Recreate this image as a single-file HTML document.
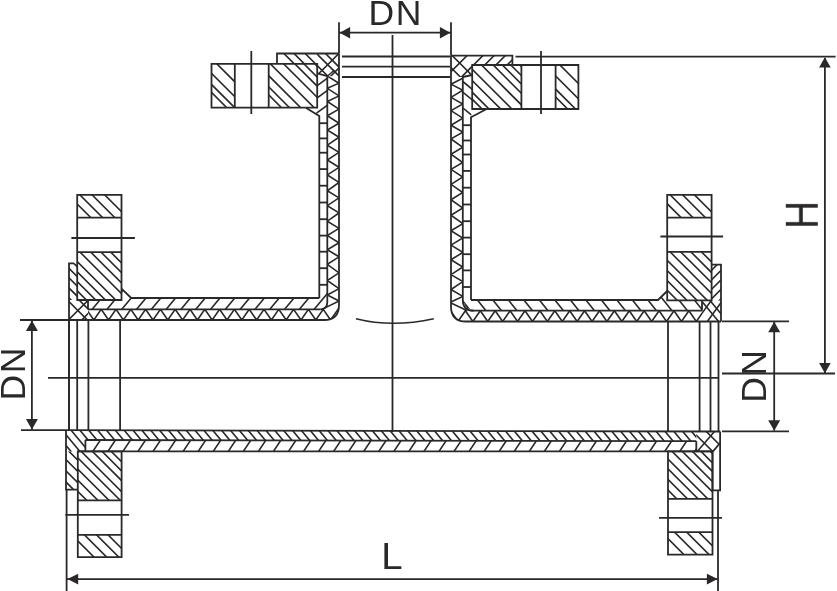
<!DOCTYPE html>
<html><head><meta charset="utf-8"><style>
html,body{margin:0;padding:0;background:#ffffff;}
body{width:837px;height:591px;overflow:hidden;}
svg{display:block;}
.t{will-change:transform;}
</style></head><body>
<svg width="837" height="591" viewBox="0 0 837 591">
<defs><clipPath id="c1"><polygon points="211.5,63.8 234.8,63.8 234.8,107.7 211.5,107.7"/></clipPath><clipPath id="c2"><polygon points="268.7,63.8 317.2,63.8 317.2,107.7 268.7,107.7"/></clipPath><clipPath id="c3"><polygon points="277,53.5 317.2,53.5 317.2,63.8 277,63.8"/></clipPath><clipPath id="c4"><polygon points="317.2,53.5 339,53.5 339,76 327.3,76.2 317.2,73.4"/></clipPath><clipPath id="c5"><polygon points="317.2,53.5 339,53.5 339,76 327.3,76.2 317.2,73.4"/></clipPath><clipPath id="c6"><polygon points="317.2,73.4 327.3,76.2 327.3,118 319.3,118 316,114 317.2,107.7"/></clipPath><clipPath id="c7"><path d="M327.3 76.2 L327.3 302.3 Q327.3 309.3 320.3 309.3 L88 309.3 L88 320 L324 320 Q339 320 339 305 L339 76 Z"/></clipPath><clipPath id="c8"><polygon points="472.2,65 521.4,65 521.4,109 472.2,109"/></clipPath><clipPath id="c9"><polygon points="555.6,65 578.4,65 578.4,109 555.6,109"/></clipPath><clipPath id="c10"><polygon points="472.2,55.6 512.4,55.6 512.4,65 472.2,65"/></clipPath><clipPath id="c11"><polygon points="451,55.6 472.2,55.6 472.2,75 462.8,77 451,77"/></clipPath><clipPath id="c12"><polygon points="451,55.6 472.2,55.6 472.2,75 462.8,77 451,77"/></clipPath><clipPath id="c13"><polygon points="462.8,77 472.2,75 472.2,109 471,117 462.8,117"/></clipPath><clipPath id="c14"><path d="M462.8 77 L462.8 299.7 Q462.8 310.7 473.8 310.7 L702 310.7 L702 321.5 L466 321.5 Q451 321.5 451 306.5 L451 77 Z"/></clipPath><clipPath id="c15"><polygon points="77.2,194.8 121.5,194.8 121.5,217.7 77.2,217.7"/></clipPath><clipPath id="c16"><polygon points="77.2,252.1 121.5,252.1 121.5,300 77.2,300"/></clipPath><clipPath id="c17"><polygon points="69,263.3 77.2,263.3 77.2,300 69,300"/></clipPath><clipPath id="c18"><polygon points="88,300 121.5,300 121.5,288.7 131.2,298 319.3,298 319.3,287 327.3,287 327.3,302.3 325.3,307.3 320.3,309.3 88,309.3"/></clipPath><clipPath id="c19"><polygon points="69,300 88,300 88,309.3 88,320 69,320"/></clipPath><clipPath id="c20"><polygon points="69,300 88,300 88,320 69,320"/></clipPath><clipPath id="c21"><path d="M327.3 76.2 L327.3 302.3 Q327.3 309.3 320.3 309.3 L88 309.3 L88 320 L324 320 Q339 320 339 305 L339 76 Z"/></clipPath><clipPath id="c22"><polygon points="667.2,194.9 711.6,194.9 711.6,217.7 667.2,217.7"/></clipPath><clipPath id="c23"><polygon points="667.2,251.8 711.6,251.8 711.6,300.4 667.2,300.4"/></clipPath><clipPath id="c24"><polygon points="711.6,264.7 721,264.7 721,300.4 711.6,300.4"/></clipPath><clipPath id="c25"><polygon points="471,294 471,300 658,300 667.2,291 667.2,300.4 702,300.4 702,310.7 473.8,310.7 466,307.5 462.8,299.7 462.8,294"/></clipPath><clipPath id="c26"><polygon points="702,300.4 721,300.4 721,321.5 702,321.5"/></clipPath><clipPath id="c27"><polygon points="702,300.4 721,300.4 721,321.5 702,321.5"/></clipPath><clipPath id="c28"><path d="M462.8 77 L462.8 299.7 Q462.8 310.7 473.8 310.7 L702 310.7 L702 321.5 L466 321.5 Q451 321.5 451 306.5 L451 77 Z"/></clipPath><clipPath id="c29"><polygon points="66,430.2 696.3,431.5 696.3,441.2 85.4,440 85.4,451.4 66,451.4"/></clipPath><clipPath id="c30"><polygon points="66,451.4 77.8,451.4 77.8,489.6 66,489.6"/></clipPath><clipPath id="c31"><polygon points="85.4,440 696.3,441.2 696.3,451.4 85.4,451.4"/></clipPath><clipPath id="c32"><polygon points="77.8,451.4 121.6,451.4 121.6,500.3 77.8,500.3"/></clipPath><clipPath id="c33"><polygon points="77.8,534.8 121.6,534.8 121.6,557.2 77.8,557.2"/></clipPath><clipPath id="c34"><polygon points="668,451.4 712.5,451.4 712.5,498.8 668,498.8"/></clipPath><clipPath id="c35"><polygon points="668,532.2 712.5,532.2 712.5,554.6 668,554.6"/></clipPath><clipPath id="c36"><polygon points="696.3,431.5 720.1,431.5 720.1,443 713,451.4 696.3,451.4"/></clipPath><clipPath id="c37"><polygon points="696.3,431.5 720.1,431.5 720.1,443 713,451.4 696.3,451.4"/></clipPath></defs>
<g fill="none" stroke="#2b282a" stroke-linecap="butt" stroke-linejoin="miter">
<line x1="339" y1="22.2" x2="339" y2="53.5" stroke-width="1.8"/>
<line x1="451" y1="22.2" x2="451" y2="55.6" stroke-width="1.8"/>
<line x1="339" y1="32.7" x2="451" y2="32.7" stroke-width="1.8"/>
<polygon points="339.6,32.7 350.1,26.9 350.1,38.5" fill="#2b282a" stroke="none"/>
<polygon points="450.4,32.7 439.9,38.5 439.9,26.9" fill="#2b282a" stroke="none"/>
<line x1="20" y1="320" x2="69" y2="320" stroke-width="1.8"/>
<line x1="21" y1="430.2" x2="66" y2="430.2" stroke-width="1.8"/>
<line x1="31.9" y1="321" x2="31.9" y2="429.5" stroke-width="1.8"/>
<polygon points="31.9,320.6 37.9,331.1 25.9,331.1" fill="#2b282a" stroke="none"/>
<polygon points="31.9,429.4 25.9,418.9 37.9,418.9" fill="#2b282a" stroke="none"/>
<line x1="722" y1="321.3" x2="789" y2="321.3" stroke-width="1.8"/>
<line x1="722" y1="431.4" x2="789" y2="431.4" stroke-width="1.8"/>
<line x1="774.2" y1="322" x2="774.2" y2="430.5" stroke-width="1.8"/>
<polygon points="774.2,321.8 780.2,332.3 768.2,332.3" fill="#2b282a" stroke="none"/>
<polygon points="774.2,430.8 768.2,420.3 780.2,420.3" fill="#2b282a" stroke="none"/>
<line x1="515.5" y1="56.6" x2="835.6" y2="56.6" stroke-width="1.8"/>
<line x1="722" y1="373.5" x2="835" y2="373.5" stroke-width="1.8"/>
<line x1="824.9" y1="58" x2="824.9" y2="373" stroke-width="1.8"/>
<polygon points="824.9,57.2 830.7,67.6 819.1,67.6" fill="#2b282a" stroke="none"/>
<polygon points="824.9,373.3 819.1,362.9 830.7,362.9" fill="#2b282a" stroke="none"/>
<line x1="66.6" y1="490" x2="66.6" y2="591" stroke-width="1.8"/>
<line x1="718" y1="490.5" x2="718" y2="591" stroke-width="1.8"/>
<line x1="67" y1="579.1" x2="718" y2="579.1" stroke-width="1.8"/>
<polygon points="67.5,579.1 78.2,573.7 78.2,584.5" fill="#2b282a" stroke="none"/>
<polygon points="717.6,579.1 706.9,584.5 706.9,573.7" fill="#2b282a" stroke="none"/>
<line x1="392.5" y1="35" x2="392.5" y2="432" stroke-width="1.8"/>
<line x1="48" y1="377.8" x2="719" y2="377.8" stroke-width="1.8"/>
<line x1="251.3" y1="51" x2="251.3" y2="114" stroke-width="1.8"/>
<line x1="541" y1="51" x2="541" y2="114" stroke-width="1.8"/>
<line x1="71.4" y1="238" x2="134.9" y2="238" stroke-width="1.8"/>
<line x1="660.4" y1="236.5" x2="723.1" y2="236.5" stroke-width="1.8"/>
<line x1="65.4" y1="514.9" x2="129" y2="514.9" stroke-width="1.8"/>
<line x1="659" y1="517.8" x2="722" y2="517.8" stroke-width="1.8"/>
<path d="M356 318.7 Q392.5 327.8 433.8 318.7" stroke-width="1.5"/>
<line x1="342" y1="56.5" x2="450" y2="56.5" stroke-width="1.8"/>
<line x1="342" y1="66.7" x2="450" y2="66.7" stroke-width="1.8"/>
<line x1="342" y1="77" x2="450" y2="77" stroke-width="1.8"/>
<path clip-path="url(#c1)" d="M208.5 55.5L237.8 84.8M208.5 70.4L237.8 99.7M208.5 81.5L237.8 110.8M208.5 89.4L237.8 118.7" stroke-width="1.6"/>
<path clip-path="url(#c2)" d="M265.7 14.7L320.2 69.2M265.7 25.6L320.2 80.1M265.7 34.7L320.2 89.2M265.7 45.9L320.2 100.4M265.7 59.2L320.2 113.7M265.7 72.7L320.2 127.2M265.7 83.9L320.2 138.4M265.7 91.9L320.2 146.4" stroke-width="1.6"/>
<polyline points="277,63.8 211.5,63.8 211.5,107.7 305.8,107.7" stroke-width="1.8"/>
<polyline points="277,63.8 317.2,63.8 317.2,107.7 305.8,107.7" stroke-width="1.8"/>
<line x1="234.8" y1="63.8" x2="234.8" y2="107.7" stroke-width="1.8"/>
<line x1="268.7" y1="63.8" x2="268.7" y2="107.7" stroke-width="1.8"/>
<path clip-path="url(#c3)" d="M274 43.6L320.2 89.8M274 33.5L320.2 79.7M274 22.3L320.2 68.5M274 10.6L320.2 56.8" stroke-width="1.6"/>
<path clip-path="url(#c4)" d="M314.2 62.5L342 90.3M314.2 51.2L342 79M314.2 42.2L342 70" stroke-width="1.6"/>
<path clip-path="url(#c5)" d="M314.2 78.2L342 50.4M314.2 92.7L342 64.9" stroke-width="1.6"/>
<polyline points="277,63.8 277,53.5 339,53.5" stroke-width="1.8"/>
<line x1="317.2" y1="73.4" x2="327.3" y2="76.2" stroke-width="1.8"/>
<path clip-path="url(#c6)" d="M313 88.64L330.3 76.18M313 100.84L330.3 88.38M313 115.64L330.3 103.18" stroke-width="1.6"/>
<line x1="327.3" y1="76.2" x2="334.5" y2="70" stroke-width="1.5"/>
<polyline points="305.8,107.7 316,114 319.3,116 319.3,298" stroke-width="1.8"/>
<path d="M327.3 76.2 L327.3 302.3 Q327.3 309.3 320.3 309.3" stroke-width="1.8"/>
<line x1="319.3" y1="123.2" x2="327.3" y2="123.2" stroke-width="1.8"/>
<line x1="319.3" y1="138.4" x2="327.3" y2="138.4" stroke-width="1.8"/>
<line x1="319.3" y1="152.7" x2="327.3" y2="152.7" stroke-width="1.8"/>
<line x1="319.3" y1="169.1" x2="327.3" y2="169.1" stroke-width="1.8"/>
<line x1="319.3" y1="185.7" x2="327.3" y2="185.7" stroke-width="1.8"/>
<line x1="319.3" y1="202.5" x2="327.3" y2="202.5" stroke-width="1.8"/>
<line x1="319.3" y1="219.2" x2="327.3" y2="219.2" stroke-width="1.8"/>
<line x1="319.3" y1="235.6" x2="327.3" y2="235.6" stroke-width="1.8"/>
<line x1="319.3" y1="251.7" x2="327.3" y2="251.7" stroke-width="1.8"/>
<line x1="319.3" y1="268.2" x2="327.3" y2="268.2" stroke-width="1.8"/>
<line x1="319.3" y1="284.8" x2="327.3" y2="284.8" stroke-width="1.8"/>
<polyline clip-path="url(#c7)" points="339,68.5 327.3,76.1 339,83.2 327.3,88.3 339,95.9 327.3,101.5 339,109.1 327.3,115.7 339,123.3 327.3,130 339,137.2 327.3,145.2 339,152.4 327.3,160 339,167.3 327.3,174.9 339,182.4 327.3,190.8 339,197.9 327.3,205.7 339,212.9 327.3,221.2 339,228.4 327.3,235.6 339,242.7 327.3,249.8 339,256.8 327.3,264.4 339,272.9 327.3,280.5 339,288.7 327.3,295 339,301" stroke-width="1.6"/>
<line x1="322" y1="309.3" x2="339" y2="301" stroke-width="1.5"/>
<path d="M339 53.5 L339 305 Q339 320 324 320" stroke-width="1.8"/>
<path clip-path="url(#c8)" d="M469.2 14.2L524.4 69.4M469.2 23.4L524.4 78.6M469.2 31.9L524.4 87.1M469.2 41L524.4 96.2M469.2 52.7L524.4 107.9M469.2 66.3L524.4 121.5M469.2 77.5L524.4 132.7M469.2 89.2L524.4 144.4M469.2 96.2L524.4 151.4" stroke-width="1.6"/>
<path clip-path="url(#c9)" d="M552.6 57.7L581.4 86.5M552.6 73L581.4 101.8M552.6 86.1L581.4 114.9M552.6 94L581.4 122.8" stroke-width="1.6"/>
<polyline points="512.4,65 578.4,65 578.4,109 486.6,109" stroke-width="1.8"/>
<polyline points="512.4,65 472.2,65 472.2,109 486.6,109" stroke-width="1.8"/>
<line x1="521.4" y1="65" x2="521.4" y2="109" stroke-width="1.8"/>
<line x1="555.6" y1="65" x2="555.6" y2="109" stroke-width="1.8"/>
<path clip-path="url(#c10)" d="M469.2 69.3L515.4 23.1M469.2 80.5L515.4 34.3M469.2 91.7L515.4 45.5M469.2 102.9L515.4 56.7" stroke-width="1.6"/>
<path clip-path="url(#c11)" d="M448 51.4L475.2 78.6M448 64.7L475.2 91.9" stroke-width="1.6"/>
<path clip-path="url(#c12)" d="M448 74.7L475.2 47.5M448 90.5L475.2 63.3" stroke-width="1.6"/>
<polyline points="451,55.6 512.4,55.6 512.4,65" stroke-width="1.8"/>
<line x1="472.2" y1="75" x2="462.8" y2="77" stroke-width="1.8"/>
<path clip-path="url(#c13)" d="M459.8 79.04L475.2 91.66M459.8 89.64L475.2 102.26M459.8 105.44L475.2 118.06" stroke-width="1.6"/>
<polyline points="486.6,109 471,117.2 471,300" stroke-width="1.8"/>
<path d="M462.8 77 L462.8 299.7 Q462.8 310.7 473.8 310.7" stroke-width="1.8"/>
<line x1="462.8" y1="125.2" x2="471" y2="125.2" stroke-width="1.8"/>
<line x1="462.8" y1="140.5" x2="471" y2="140.5" stroke-width="1.8"/>
<line x1="462.8" y1="154.5" x2="471" y2="154.5" stroke-width="1.8"/>
<line x1="462.8" y1="170.9" x2="471" y2="170.9" stroke-width="1.8"/>
<line x1="462.8" y1="187.7" x2="471" y2="187.7" stroke-width="1.8"/>
<line x1="462.8" y1="204.5" x2="471" y2="204.5" stroke-width="1.8"/>
<line x1="462.8" y1="221.2" x2="471" y2="221.2" stroke-width="1.8"/>
<line x1="462.8" y1="237.6" x2="471" y2="237.6" stroke-width="1.8"/>
<line x1="462.8" y1="254.2" x2="471" y2="254.2" stroke-width="1.8"/>
<line x1="462.8" y1="270.4" x2="471" y2="270.4" stroke-width="1.8"/>
<line x1="462.8" y1="287" x2="471" y2="287" stroke-width="1.8"/>
<polyline clip-path="url(#c14)" points="462.8,78.1 451,84.2 462.8,90.3 451,97.4 462.8,104 451,110.6 462.8,118.2 451,125.3 462.8,132.1 451,138.9 462.8,147.3 451,154.2 462.8,162.5 451,169.4 462.8,177 451,184.4 462.8,192.5 451,199.7 462.8,208 451,215.2 462.8,223.6 451,230.8 462.8,238 451,245.1 462.8,252.4 451,259.8 462.8,267 451,274.6 462.8,281.6 451,289.5 462.8,296.4 451,302" stroke-width="1.6"/>
<line x1="467.4" y1="310.7" x2="451" y2="303" stroke-width="1.5"/>
<path d="M451 55.6 L451 306.5 Q451 321.5 466 321.5" stroke-width="1.8"/>
<path clip-path="url(#c15)" d="M74.2 164.4L124.5 214.7M74.2 177L124.5 227.3M74.2 189.2L124.5 239.5M74.2 201L124.5 251.3" stroke-width="1.6"/>
<path clip-path="url(#c16)" d="M74.2 205.7L124.5 256M74.2 215.6L124.5 265.9M74.2 225.3L124.5 275.6M74.2 235.6L124.5 285.9M74.2 246.3L124.5 296.6M74.2 258.5L124.5 308.8M74.2 268.8L124.5 319.1M74.2 278.5L124.5 328.8M74.2 287.8L124.5 338.1" stroke-width="1.6"/>
<polygon points="77.2,194.8 121.5,194.8 121.5,300 77.2,300" stroke-width="1.8"/>
<line x1="77.2" y1="217.7" x2="121.5" y2="217.7" stroke-width="1.8"/>
<line x1="77.2" y1="252.1" x2="121.5" y2="252.1" stroke-width="1.8"/>
<path clip-path="url(#c17)" d="M66 255.5L80.2 269.7M66 265.3L80.2 279.5M66 274.9L80.2 289.1M66 285L80.2 299.2M66 295L80.2 309.2" stroke-width="1.6"/>
<polyline points="74.3,263.3 69,263.3 69,430.2" stroke-width="1.8"/>
<path clip-path="url(#c18)" d="M86 281.2L329.3 -10.76M86 298.96L329.3 7M86 316.72L329.3 24.76M86 334.48L329.3 42.52M86 352.24L329.3 60.28M86 370L329.3 78.04M86 387.76L329.3 95.8M86 405.52L329.3 113.56M86 423.28L329.3 131.32M86 441.04L329.3 149.08M86 458.8L329.3 166.84M86 476.56L329.3 184.6M86 494.32L329.3 202.36M86 512.08L329.3 220.12M86 529.84L329.3 237.88M86 547.6L329.3 255.64M86 565.36L329.3 273.4M86 583.12L329.3 291.16M86 600.88L329.3 308.92M86 618.64L329.3 326.68" stroke-width="1.6"/>
<polyline points="121.5,288.7 131.2,298 319.3,298" stroke-width="1.8"/>
<line x1="88" y1="300" x2="88" y2="309.3" stroke-width="1.8"/>
<line x1="88" y1="309.3" x2="320.3" y2="309.3" stroke-width="1.8"/>
<path clip-path="url(#c19)" d="M66 286.9L91 311.9M66 298.7L91 323.7" stroke-width="1.6"/>
<path clip-path="url(#c20)" d="M66 322.4L91 297.4M66 335.7L91 310.7" stroke-width="1.6"/>
<polyline clip-path="url(#c21)" points="71.6,309.3 79,320 86.4,309.3 93.8,320 101.2,309.3 108.6,320 116,309.3 123.4,320 130.8,309.3 138.2,320 145.6,309.3 153,320 160.4,309.3 167.8,320 175.2,309.3 182.6,320 190,309.3 197.4,320 204.8,309.3 212.2,320 219.6,309.3 227,320 234.4,309.3 241.8,320 249.2,309.3 256.6,320 264,309.3 271.4,320 278.8,309.3 286.2,320 293.6,309.3 301,320 308.4,309.3 315.8,320 323.2,309.3 330.6,320 338,309.3 345.4,320 352.8,309.3 360.2,320" stroke-width="1.6"/>
<line x1="69" y1="320" x2="325.5" y2="320" stroke-width="1.8"/>
<line x1="77.2" y1="320" x2="77.2" y2="430.2" stroke-width="1.8"/>
<line x1="88.4" y1="320" x2="88.4" y2="430.2" stroke-width="1.8"/>
<line x1="120.1" y1="320" x2="120.1" y2="430.2" stroke-width="1.8"/>
<path clip-path="url(#c22)" d="M664.2 164.6L714.6 215M664.2 176.4L714.6 226.8M664.2 188.9L714.6 239.3M664.2 200.7L714.6 251.1" stroke-width="1.6"/>
<path clip-path="url(#c23)" d="M664.2 214.6L714.6 265M664.2 225.2L714.6 275.6M664.2 235.4L714.6 285.8M664.2 246L714.6 296.4M664.2 257.3L714.6 307.7M664.2 267.5L714.6 317.9M664.2 277.6L714.6 328M664.2 287.3L714.6 337.7" stroke-width="1.6"/>
<polygon points="667.2,194.9 711.6,194.9 711.6,300.4 667.2,300.4" stroke-width="1.8"/>
<line x1="667.2" y1="217.7" x2="711.6" y2="217.7" stroke-width="1.8"/>
<line x1="667.2" y1="251.8" x2="711.6" y2="251.8" stroke-width="1.8"/>
<path clip-path="url(#c24)" d="M709.6 262.7L723 249.3M709.6 272.2L723 258.8M709.6 281.7L723 268.3M709.6 291.2L723 277.8M709.6 300.7L723 287.3M709.6 310.2L723 296.8M709.6 319.7L723 306.3" stroke-width="1.6"/>
<polyline points="711.6,264.7 721,264.7 721,321.5" stroke-width="1.8"/>
<path clip-path="url(#c25)" d="M460.8 -30.75L704 273.25M460.8 -11.38L704 292.62M460.8 8L704 312M460.8 27.38L704 331.38M460.8 46.75L704 350.75M460.8 66.12L704 370.12M460.8 85.5L704 389.5M460.8 104.88L704 408.88M460.8 124.25L704 428.25M460.8 143.62L704 447.62M460.8 163L704 467M460.8 182.38L704 486.38M460.8 201.75L704 505.75M460.8 221.12L704 525.12M460.8 240.5L704 544.5M460.8 259.88L704 563.88M460.8 279.25L704 583.25M460.8 298.62L704 602.62M460.8 318L704 622" stroke-width="1.6"/>
<polyline points="471,300 658,300 667.2,291" stroke-width="1.8"/>
<line x1="702" y1="300.4" x2="702" y2="310.7" stroke-width="1.8"/>
<line x1="470.8" y1="310.7" x2="702" y2="310.7" stroke-width="1.8"/>
<path clip-path="url(#c26)" d="M699 297.96L724 327.96M699 287.3L724 317.3" stroke-width="1.6"/>
<path clip-path="url(#c27)" d="M699 317.37L724 283.12M699 332.87L724 298.62" stroke-width="1.6"/>
<polyline clip-path="url(#c28)" points="420.7,310.7 428.15,321.5 435.6,310.7 443.05,321.5 450.5,310.7 457.95,321.5 465.4,310.7 472.85,321.5 480.3,310.7 487.75,321.5 495.2,310.7 502.65,321.5 510.1,310.7 517.55,321.5 525,310.7 532.45,321.5 539.9,310.7 547.35,321.5 554.8,310.7 562.25,321.5 569.7,310.7 577.15,321.5 584.6,310.7 592.05,321.5 599.5,310.7 606.95,321.5 614.4,310.7 621.85,321.5 629.3,310.7 636.75,321.5 644.2,310.7 651.65,321.5 659.1,310.7 666.55,321.5 674,310.7 681.45,321.5 688.9,310.7 696.35,321.5 703.8,310.7 711.25,321.5" stroke-width="1.6"/>
<line x1="466" y1="321.5" x2="721" y2="321.5" stroke-width="1.8"/>
<line x1="668" y1="321.5" x2="668" y2="431.5" stroke-width="1.8"/>
<line x1="699.6" y1="321.5" x2="699.6" y2="431.5" stroke-width="1.8"/>
<line x1="710.5" y1="321.5" x2="710.5" y2="431.5" stroke-width="1.8"/>
<line x1="718.5" y1="321.5" x2="718.5" y2="431.5" stroke-width="1.8"/>
<line x1="69" y1="320" x2="69" y2="430.2" stroke-width="1.8"/>
<line x1="66" y1="430.2" x2="720.1" y2="431.5" stroke-width="1.8"/>
<path clip-path="url(#c29)" d="M64 -342.9L698.3 418.26M64 -332.28L698.3 428.88M64 -321.66L698.3 439.5M64 -311.04L698.3 450.12M64 -300.42L698.3 460.74M64 -289.8L698.3 471.36M64 -279.18L698.3 481.98M64 -268.56L698.3 492.6M64 -257.94L698.3 503.22M64 -247.32L698.3 513.84M64 -236.7L698.3 524.46M64 -226.08L698.3 535.08M64 -215.46L698.3 545.7M64 -204.84L698.3 556.32M64 -194.22L698.3 566.94M64 -183.6L698.3 577.56M64 -172.98L698.3 588.18M64 -162.36L698.3 598.8M64 -151.74L698.3 609.42M64 -141.12L698.3 620.04M64 -130.5L698.3 630.66M64 -119.88L698.3 641.28M64 -109.26L698.3 651.9M64 -98.64L698.3 662.52M64 -88.02L698.3 673.14M64 -77.4L698.3 683.76M64 -66.78L698.3 694.38M64 -56.16L698.3 705M64 -45.54L698.3 715.62M64 -34.92L698.3 726.24M64 -24.3L698.3 736.86M64 -13.68L698.3 747.48M64 -3.06L698.3 758.1M64 7.56L698.3 768.72M64 18.18L698.3 779.34M64 28.8L698.3 789.96M64 39.42L698.3 800.58M64 50.04L698.3 811.2M64 60.66L698.3 821.82M64 71.28L698.3 832.44M64 81.9L698.3 843.06M64 92.52L698.3 853.68M64 103.14L698.3 864.3M64 113.76L698.3 874.92M64 124.38L698.3 885.54M64 135L698.3 896.16M64 145.62L698.3 906.78M64 156.24L698.3 917.4M64 166.86L698.3 928.02M64 177.48L698.3 938.64M64 188.1L698.3 949.26M64 198.72L698.3 959.88M64 209.34L698.3 970.5M64 219.96L698.3 981.12M64 230.58L698.3 991.74M64 241.2L698.3 1002.36M64 251.82L698.3 1012.98M64 262.44L698.3 1023.6M64 273.06L698.3 1034.22M64 283.68L698.3 1044.84M64 294.3L698.3 1055.46M64 304.92L698.3 1066.08M64 315.54L698.3 1076.7M64 326.16L698.3 1087.32M64 336.78L698.3 1097.94M64 347.4L698.3 1108.56M64 358.02L698.3 1119.18M64 368.64L698.3 1129.8M64 379.26L698.3 1140.42M64 389.88L698.3 1151.04M64 400.5L698.3 1161.66M64 411.12L698.3 1172.28M64 421.74L698.3 1182.9M64 432.36L698.3 1193.52M64 442.98L698.3 1204.14M64 453.6L698.3 1214.76" stroke-width="1.6"/>
<path clip-path="url(#c30)" d="M64 424L79.8 439.8M64 435.2L79.8 451M64 446.4L79.8 462.2M64 457.6L79.8 473.4M64 468.8L79.8 484.6M64 480L79.8 495.8M64 491.2L79.8 507M64 502.4L79.8 518.2" stroke-width="1.6"/>
<line x1="85.4" y1="440" x2="696.3" y2="441.2" stroke-width="1.8"/>
<line x1="85.4" y1="440" x2="85.4" y2="451.4" stroke-width="1.8"/>
<path clip-path="url(#c31)" d="M83.4 420.4L698.3 -501.95M83.4 442.98L698.3 -479.37M83.4 465.55L698.3 -456.8M83.4 488.13L698.3 -434.22M83.4 510.7L698.3 -411.65M83.4 533.28L698.3 -389.07M83.4 555.85L698.3 -366.5M83.4 578.43L698.3 -343.92M83.4 601L698.3 -321.35M83.4 623.58L698.3 -298.77M83.4 646.15L698.3 -276.2M83.4 668.73L698.3 -253.62M83.4 691.3L698.3 -231.05M83.4 713.88L698.3 -208.47M83.4 736.45L698.3 -185.9M83.4 759.03L698.3 -163.32M83.4 781.6L698.3 -140.75M83.4 804.18L698.3 -118.17M83.4 826.75L698.3 -95.6M83.4 849.33L698.3 -73.02M83.4 871.9L698.3 -50.45M83.4 894.48L698.3 -27.87M83.4 917.05L698.3 -5.3M83.4 939.63L698.3 17.28M83.4 962.2L698.3 39.85M83.4 984.78L698.3 62.43M83.4 1007.35L698.3 85M83.4 1029.93L698.3 107.58M83.4 1052.5L698.3 130.15M83.4 1075.08L698.3 152.73M83.4 1097.65L698.3 175.3M83.4 1120.23L698.3 197.88M83.4 1142.8L698.3 220.45M83.4 1165.38L698.3 243.03M83.4 1187.95L698.3 265.6M83.4 1210.53L698.3 288.18M83.4 1233.1L698.3 310.75M83.4 1255.68L698.3 333.33M83.4 1278.25L698.3 355.9M83.4 1300.83L698.3 378.48M83.4 1323.4L698.3 401.05M83.4 1345.98L698.3 423.63M83.4 1368.55L698.3 446.2M83.4 1391.13L698.3 468.78" stroke-width="1.6"/>
<line x1="77.8" y1="451.4" x2="713" y2="451.4" stroke-width="1.8"/>
<line x1="696.3" y1="441.2" x2="696.3" y2="451.4" stroke-width="1.8"/>
<polyline points="66,430.2 66,489.6 77.8,489.6" stroke-width="1.8"/>
<path clip-path="url(#c32)" d="M74.8 404.8L124.6 454.6M74.8 415L124.6 464.8M74.8 424.1L124.6 473.9M74.8 433.8L124.6 483.6M74.8 445L124.6 494.8M74.8 454.9L124.6 504.7M74.8 466.1L124.6 515.9M74.8 477.2L124.6 527M74.8 488.4L124.6 538.2" stroke-width="1.6"/>
<path clip-path="url(#c33)" d="M74.8 501.6L124.6 551.4M74.8 513.1L124.6 562.9M74.8 525.2L124.6 575M74.8 537.9L124.6 587.7" stroke-width="1.6"/>
<polygon points="77.8,451.4 121.6,451.4 121.6,557.2 77.8,557.2" stroke-width="1.8"/>
<line x1="77.8" y1="500.3" x2="121.6" y2="500.3" stroke-width="1.8"/>
<line x1="77.8" y1="534.8" x2="121.6" y2="534.8" stroke-width="1.8"/>
<path clip-path="url(#c34)" d="M665 406L715.5 456.5M665 415.4L715.5 465.9M665 424L715.5 474.5M665 434.1L715.5 484.6M665 444.3L715.5 494.8M665 456.1L715.5 506.6M665 465.8L715.5 516.3M665 476.4L715.5 526.9M665 487.1L715.5 537.6" stroke-width="1.6"/>
<path clip-path="url(#c35)" d="M665 498.4L715.5 548.9M665 510.5L715.5 561M665 522.6L715.5 573.1M665 535.7L715.5 586.2" stroke-width="1.6"/>
<polygon points="668,451.4 712.5,451.4 712.5,554.6 668,554.6" stroke-width="1.8"/>
<line x1="668" y1="498.8" x2="712.5" y2="498.8" stroke-width="1.8"/>
<line x1="668" y1="532.2" x2="712.5" y2="532.2" stroke-width="1.8"/>
<path clip-path="url(#c36)" d="M693.3 432.1L723.1 461.9M693.3 418.5L723.1 448.3" stroke-width="1.6"/>
<line x1="720.1" y1="443" x2="713" y2="451.4" stroke-width="1.8"/>
<path clip-path="url(#c37)" d="M693.3 456.07L723.1 421.5" stroke-width="1.6"/>
<polyline points="712.5,451.4 712.5,490.4 720.1,490.4 720.1,431.5" stroke-width="1.8"/>
</g>
<g fill="#2b282a" font-family="'Liberation Sans', sans-serif" opacity="0.999">
<text x="368.5" y="25.1" font-size="35.5">D</text>
<text x="395.8" y="25.1" font-size="35.5">N</text>
<text transform="translate(24.9,400.6) rotate(-90)" font-size="35.5">D</text>
<text transform="translate(24.9,373.2) rotate(-90)" font-size="35.5">N</text>
<text transform="translate(766.4,402.7) rotate(-90)" font-size="35.5">D</text>
<text transform="translate(766.4,375.7) rotate(-90)" font-size="35.5">N</text>
<text transform="translate(817.8,228.9) rotate(-90) scale(0.845,1)" font-size="45.9">H</text>
<text transform="translate(381.2,568.6) scale(1.05,1)" font-size="36.6">L</text>
</g>
</svg>
</body></html>
